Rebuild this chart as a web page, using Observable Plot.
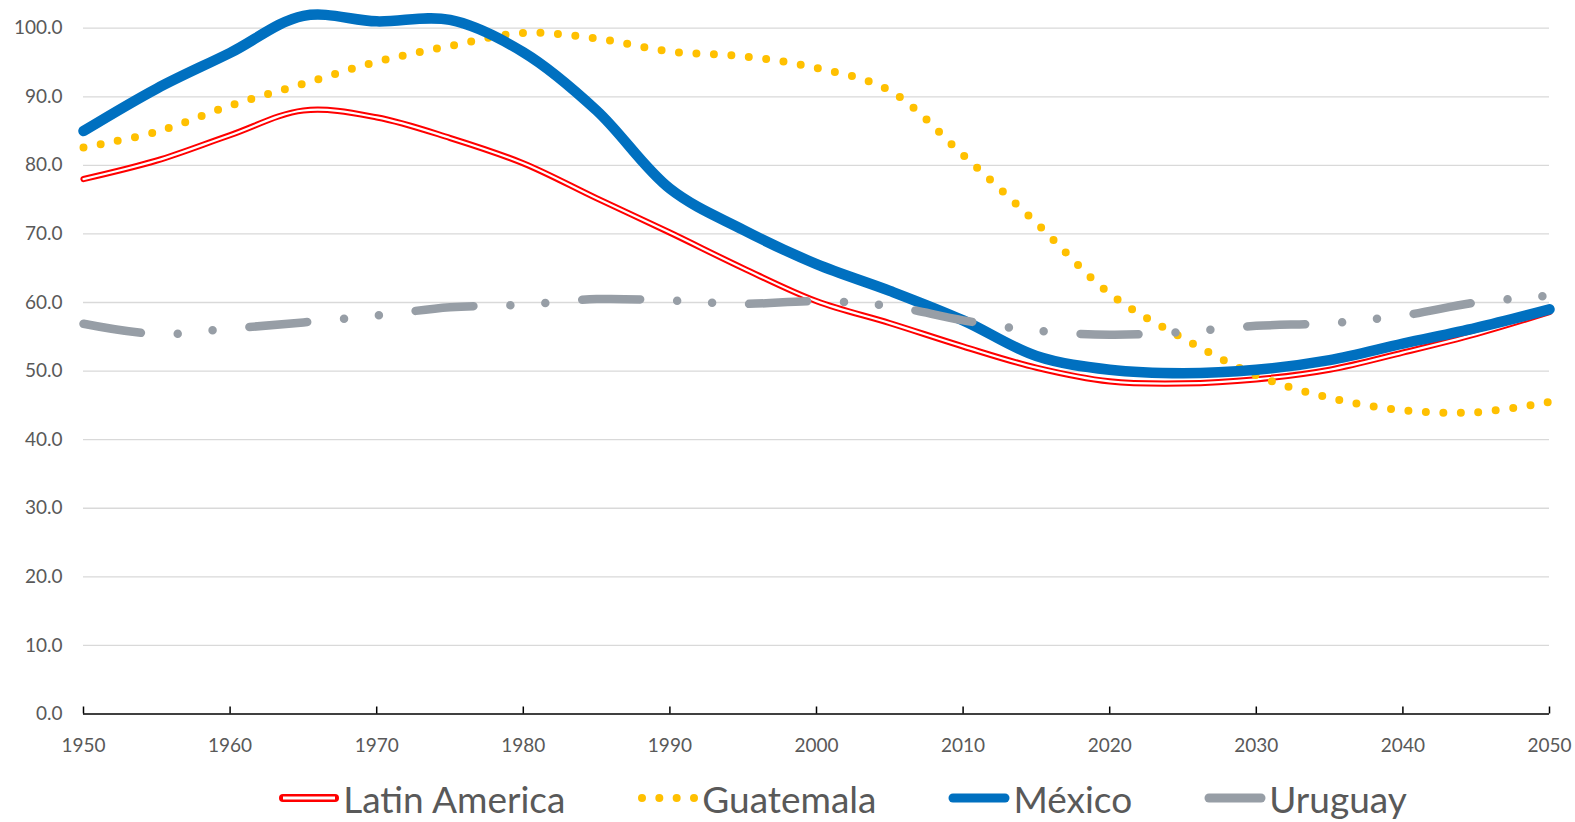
<!DOCTYPE html>
<html><head><meta charset="utf-8">
<script src="https://cdn.jsdelivr.net/npm/d3@7"></script>
<script src="https://cdn.jsdelivr.net/npm/@observablehq/plot@0.6"></script>
<style>
body{margin:0;background:#fff;font-family:Lato,"Open Sans",sans-serif;}
#chart{position:relative;width:1575px;height:822px;overflow:hidden;}
#legend{position:absolute;left:0;top:778px;width:1575px;height:40px;display:flex;justify-content:center;align-items:center;padding-left:110px;box-sizing:border-box;color:#595959;font-size:37px;}
.item{display:flex;align-items:center;margin:0 36px;white-space:nowrap;}
.item svg{margin-right:3px;}
</style></head><body>
<div id="chart"></div>
<script>
const years = [1950,1955,1960,1965,1970,1975,1980,1985,1990,1995,2000,2005,2010,2015,2020,2025,2030,2035,2040,2045,2050];
const latinAmerica = [78.0,80.7,84.4,88.0,87.0,84.0,80.3,75.2,70.2,65.0,60.2,57.0,53.6,50.5,48.5,48.2,48.8,50.2,52.7,55.4,58.6];
const guatemala    = [82.6,84.9,88.7,91.9,95.1,97.4,99.3,98.5,96.6,95.9,94.2,90.9,81.5,71.6,61.3,54.8,49.4,46.1,44.3,44.0,45.5];
const mexico       = [85.0,91.2,96.4,101.8,101.0,101.2,96.5,88.0,76.6,70.6,65.6,61.7,57.4,52.2,50.2,49.7,50.2,51.6,54.0,56.3,59.0];
const uruguay      = [56.9,55.4,56.2,57.1,58.1,59.3,59.7,60.5,60.3,59.8,60.2,59.5,57.4,55.9,55.3,55.7,56.6,57.0,58.1,60.0,61.0];
const seriesNames = ["Latin America","Guatemala","México","Uruguay"];
const xTicks = [1950,1960,1970,1980,1990,2000,2010,2020,2030,2040,2050];
const yTicks = [0,10,20,30,40,50,60,70,80,90,100];

const rows = (vals, name) => years.map((y,i)=>({series:name, year:y, value:vals[i]}));
const dLA = rows(latinAmerica, seriesNames[0]);
const dGT = rows(guatemala, seriesNames[1]);
const dMX = rows(mexico, seriesNames[2]);
const dUY = rows(uruguay, seriesNames[3]);

const font = "Lato, 'Open Sans', sans-serif";
const curve = "catmull-rom";
const plot = Plot.plot({
  width: 1575,
  height: 760,
  marginTop: 27.7,
  marginBottom: 46.5,
  marginLeft: 83,
  marginRight: 26,
  style: {fontFamily: font, fontSize: "19px", color: "#595959", background: "#fff", overflow: "visible"},
  x: {domain: [1950, 2050], type: "linear"},
  y: {domain: [0, 100]},
  marks: [
    Plot.ruleY(yTicks.filter(d => d > 0), {stroke: "#d9d9d9", strokeWidth: 1.3}),
    Plot.line(dLA, {x: "year", y: "value", curve, stroke: "#ff0000", strokeWidth: 6.2}),
    Plot.line(dLA, {x: "year", y: "value", curve, stroke: "#ffffff", strokeWidth: 2.2}),
    Plot.line(dGT, {x: "year", y: "value", curve, stroke: "#ffc000", strokeWidth: 8, strokeLinecap: "round", strokeDasharray: "0,17.5"}),
    Plot.line(dMX, {x: "year", y: "value", curve, stroke: "#0070c0", strokeWidth: 10.5}),
    Plot.line(dUY, {x: "year", y: "value", curve, stroke: "#979ea6", strokeWidth: 8.5, strokeLinecap: "round", strokeDasharray: "58,37,0,35,0,37"}),
    Plot.ruleY([0], {stroke: "#000", strokeWidth: 1.6}),
    Plot.ruleX(xTicks, {y1: 0, y2: 0, insetTop: -7, stroke: "#000", strokeWidth: 1.5}),
    Plot.axisY({ticks: yTicks, tickFormat: d => d.toFixed(1), tickSize: 0, tickPadding: 21, label: null, fontSize: 19, fill: "#595959"}),
    Plot.axisX({ticks: xTicks, tickFormat: d => String(d), tickSize: 0, tickPadding: 24, label: null, fontSize: 19, fill: "#595959"})
  ]
});
const chart = document.getElementById("chart");
chart.appendChild(plot);

// Legend
const styles = [
  {name: seriesNames[0], kind: "double", color: "#ff0000"},
  {name: seriesNames[1], kind: "dots", color: "#ffc000"},
  {name: seriesNames[2], kind: "solid", color: "#0070c0"},
  {name: seriesNames[3], kind: "solid", color: "#979ea6"}
];
const legend = d3.select(chart).append("div").attr("id", "legend");
styles.forEach(s => {
  const it = legend.append("div").attr("class", "item");
  const sv = it.append("svg").attr("width", 62).attr("height", 20);
  if (s.kind === "double") {
    sv.append("line").attr("x1", 5).attr("x2", 57).attr("y1", 10).attr("y2", 10).attr("stroke", s.color).attr("stroke-width", 8).attr("stroke-linecap", "round");
    sv.append("line").attr("x1", 5).attr("x2", 57).attr("y1", 10).attr("y2", 10).attr("stroke", "#fff").attr("stroke-width", 3);
  } else if (s.kind === "dots") {
    sv.append("line").attr("x1", 5).attr("x2", 57).attr("y1", 10).attr("y2", 10).attr("stroke", s.color).attr("stroke-width", 8).attr("stroke-linecap", "round").attr("stroke-dasharray", "0,17.33");
  } else {
    sv.append("line").attr("x1", 5).attr("x2", 57).attr("y1", 10).attr("y2", 10).attr("stroke", s.color).attr("stroke-width", 9).attr("stroke-linecap", "round");
  }
  it.append("span").text(s.name);
});
</script>
</body></html>
